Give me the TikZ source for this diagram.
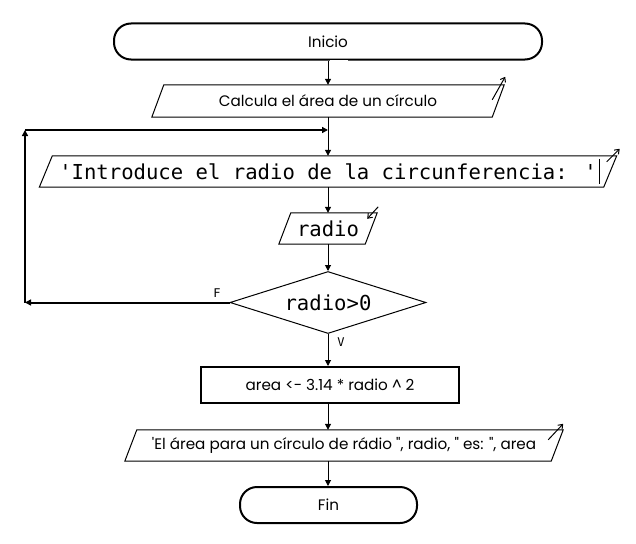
\documentclass[tikz,border=0pt]{standalone}
\usepackage{fontspec}
\usetikzlibrary{arrows.meta,shapes.geometric}
\newfontfamily\gothic[Ligatures=CommonOff]{Poppins}
\newfontfamily\mono{DejaVu Sans Mono}
\begin{document}
\begin{tikzpicture}[x=1pt,y=-1pt,
  >={Triangle[length=6pt,width=6pt]},
  base/.style={line width=1pt},
  gtext/.style={font=\gothic\fontsize{15.2}{17}\selectfont},
  mtext/.style={font=\mono\fontsize{20.6}{22}\selectfont},
  term/.style={draw, line width=2pt, rounded corners=17pt, minimum height=36pt, inner sep=0pt, gtext},
  iobox/.style={minimum height=31pt, inner sep=0pt},
  proc/.style={draw, line width=2pt, minimum height=36pt, inner sep=0pt, gtext},
  cond/.style={diamond, draw, line width=1pt, aspect=3.16, minimum width=196pt, minimum height=62pt, inner sep=0pt, mtext},
  loopline/.style={line width=2pt},
  ioarrow/.style={line width=1pt, -{Straight Barb[length=4pt,width=6pt]}},
  lbl/.style={font=\mono\fontsize{12}{14}\selectfont, inner sep=0pt}
]
\useasboundingbox (0,0) rectangle (636,543);

% nodes
\node[term, minimum width=428pt] (ini) at (328,41.5) {Inicio};
\node[iobox, minimum width=352pt, minimum height=32pt, gtext] (calc) at (328,101) {Calcula el área de un círculo};
\node[iobox, minimum width=577pt, mtext] (intro) at (328,171.5) {\textquotesingle Introduce el radio de la circunferencia: \textquotesingle};
\node[iobox, minimum width=98pt, mtext] (rad) at (328,228.5) {radio};
\node[cond] (cnd) at (328,302.5) {radio>0};
\node[lbl] (lf) at (217,293) {F};
\node[lbl] (lv) at (341,342) {V};
\node[proc, minimum width=258pt] (prc) at (330,385) {area <- 3.14 * radio \^{} 2};
\node[iobox, minimum width=438pt, gtext] (out) at (344,445.5) {\textquotesingle El área para un círculo de rádio ", radio, " es: ", area};
\node[term, minimum width=177pt] (fin) at (328.5,505) {Fin};

% parallelograms
\draw[base] ([shift={(12,0)}]calc.north west) -- (calc.north east) -- ([shift={(-12,0)}]calc.south east) -- (calc.south west) -- cycle;
\draw[base] ([shift={(13,0)}]intro.north west) -- (intro.north east) -- ([shift={(-13,0)}]intro.south east) -- (intro.south west) -- cycle;
\draw[base] ([shift={(12,0)}]rad.north west) -- (rad.north east) -- ([shift={(-12,0)}]rad.south east) -- (rad.south west) -- cycle;
\draw[base] ([shift={(12,0)}]out.north west) -- (out.north east) -- ([shift={(-12,0)}]out.south east) -- (out.south west) -- cycle;

% io marks
\draw[ioarrow] ([shift={(-12,15)}]calc.north east) -- ([shift={(1,-8)}]calc.north east);
\draw[ioarrow] ([shift={(-10,6)}]intro.north east) -- ([shift={(3,-7)}]intro.north east);
\draw[base] ([shift={(-17,3)}]intro.north east) -- ([shift={(-17,-3)}]intro.south east);
\draw[ioarrow] ([shift={(1,-6)}]rad.north east) -- ([shift={(-10,6)}]rad.north east);
\draw[ioarrow] ([shift={(-15,10)}]out.north east) -- ([shift={(0,-6)}]out.north east);

% gap in Inicio border
\draw[white, line width=2pt] ([shift={(2,0)}]ini.south) -- ([shift={(20,0)}]ini.south);

% loop
\coordinate (lp1) at (25,302.5);
\coordinate (lp2) at (25,130);
\coordinate (lp3) at (328,130);
\draw[loopline,->] (cnd.west) -- (lp1);
\draw[loopline,->] (lp1) -- (lp2);
\draw[loopline,->] (lp2) -- (lp3);

% main flow
\draw[base,->] (ini.south) -- (ini.south |- calc.north);
\draw[base,->] (calc.south) -- (calc.south |- intro.north);
\draw[base,->] (intro.south) -- (intro.south |- rad.north);
\draw[base,->] (rad.south) -- (rad.south |- cnd.north);
\draw[base,->] (cnd.south) -- (cnd.south |- prc.north);
\draw[base,->] (prc.south -| cnd.south) -- (cnd.south |- out.north);
\draw[base,->] (out.south -| cnd.south) -- (cnd.south |- fin.north);
\end{tikzpicture}
\end{document}
